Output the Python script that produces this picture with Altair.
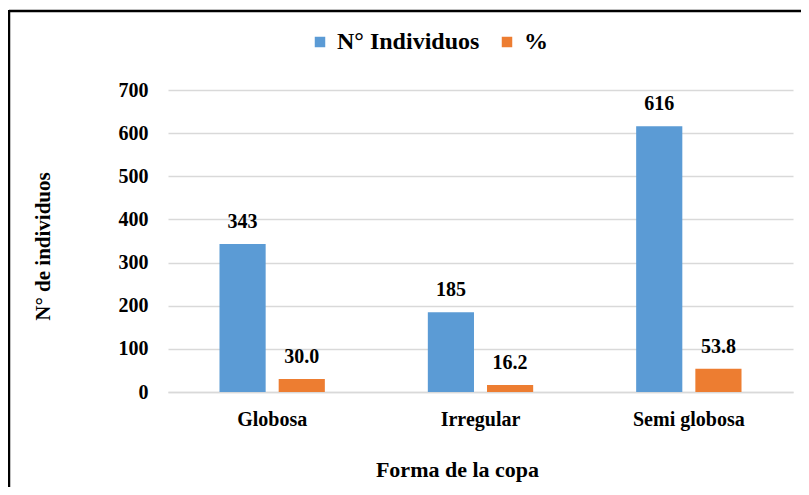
import altair as alt
import pandas as pd

categorias = ["Globosa", "Irregular", "Semi globosa"]
individuos = [343, 185, 616]
porcentaje = [30.0, 16.2, 53.8]
series = ["N° Individuos", "%"]
colores = ["#5B9BD5", "#ED7D31"]

rows = []
for c, n, p in zip(categorias, individuos, porcentaje):
    rows.append({"cat": c, "serie": series[0], "valor": n, "label": f"{n}"})
    rows.append({"cat": c, "serie": series[1], "valor": p, "label": f"{p:.1f}"})
df = pd.DataFrame(rows)

FONT = "Liberation Serif"

x = alt.X("cat:N", sort=categorias,
          scale=alt.Scale(paddingInner=0, paddingOuter=0),
          axis=alt.Axis(title="Forma de la copa", labelAngle=0, ticks=False,
                        domainColor="#D9D9D9", domainWidth=1.5,
                        labelPadding=17, labelFontSize=20,
                        titleX=289, titleY=67, titleFontSize=22))
xo = alt.XOffset("serie:N", sort=series,
                 scale=alt.Scale(paddingInner=0.22, paddingOuter=0.87))
y = alt.Y("valor:Q", scale=alt.Scale(domain=[0, 700]),
          axis=alt.Axis(title="N° de individuos", values=list(range(0, 701, 100)),
                        domain=False, ticks=False, labelPadding=20,
                        labelFontSize=20, gridColor="#D9D9D9", gridWidth=1.5,
                        titleX=-125, titleY=156, titleAngle=-90,
                        titleBaseline="middle", titleAlign="center",
                        titleFontSize=21))
color = alt.Color("serie:N", sort=series,
                  scale=alt.Scale(domain=series, range=colores),
                  legend=alt.Legend(title=None, orient="none", direction="horizontal",
                                    legendX=140, legendY=-60, padding=0,
                                    symbolType="square", symbolSize=110,
                                    symbolStrokeWidth=0, labelFontSize=24,
                                    labelFont=FONT, labelFontWeight="bold",
                                    labelColor="black",
                                    labelOffset=5, columnPadding=15))

frame = pd.DataFrame({"a": [0]})
top_line = alt.Chart(frame).mark_rule(stroke="black", strokeWidth=2.5).encode(
    x=alt.value(-159), x2=alt.value(1200), y=alt.value(-79))
left_line = alt.Chart(frame).mark_rule(stroke="black", strokeWidth=2.5).encode(
    x=alt.value(-159), y=alt.value(-80), y2=alt.value(900))

bars = alt.Chart(df).mark_bar().encode(x=x, xOffset=xo, y=y, color=color)
text = alt.Chart(df).mark_text(baseline="bottom", dy=-12, fontSize=20,
                               fontWeight="bold", font=FONT, color="black").encode(
    x=alt.X("cat:N", sort=categorias), xOffset=alt.XOffset("serie:N", sort=series),
    y="valor:Q", text="label:N")

chart = alt.layer(top_line, left_line, bars, text).properties(
    width=625, height=302,
    autosize=alt.AutoSizeParams(type="none"),
    padding={"left": 160, "top": 82, "right": 8, "bottom": 95},
).configure(
    font=FONT,
    style={"guide-label": {"font": FONT, "fontWeight": "bold"}},
).configure_view(stroke=None).configure_axis(
    labelFont=FONT, titleFont=FONT, labelFontWeight="bold", titleFontWeight="bold",
    labelColor="black", titleColor="black"
).configure_legend(labelFont=FONT, labelFontWeight="bold", labelColor="black")

chart.save("out.html", embed_options={"renderer": "svg", "actions": False})
